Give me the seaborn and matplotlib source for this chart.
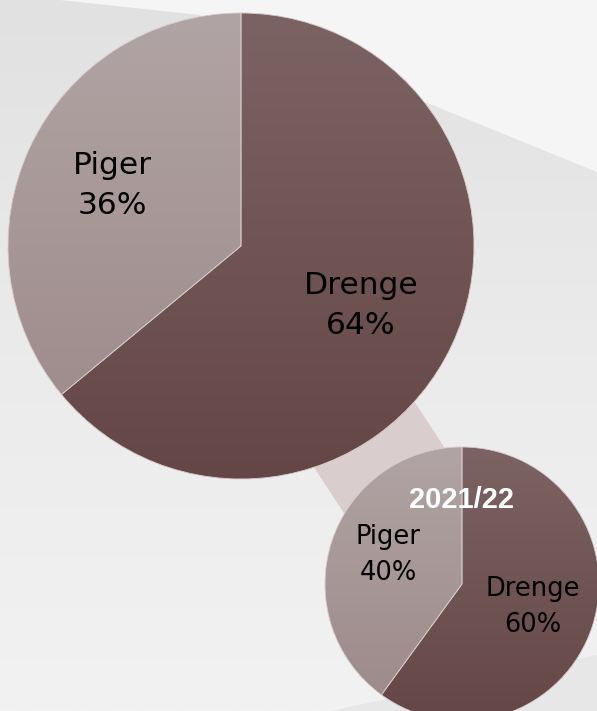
import numpy as np
import matplotlib
matplotlib.use("Agg")
import matplotlib.pyplot as plt
import seaborn as sns
from matplotlib.colors import ListedColormap
from matplotlib.patches import Polygon

# data
labels = ["Piger", "Drenge"]
total_values = [36, 64]
season_values = [40, 60]
season_name = "2021/22"

# slice colours (top -> bottom of each pie)
piger_colors = ["#b1a4a4", "#9c8888"]
drenge_colors = ["#7c6363", "#654646"]

sns.set_style("white")
plt.rcParams["font.family"] = ["DejaVu Sans"]

W, H = 597, 711
fig = plt.figure(figsize=(W / 100, H / 100), dpi=100)
ax = fig.add_axes([0, 0, 1, 1])
ax.set_xlim(0, W)
ax.set_ylim(0, H)
ax.set_aspect("equal")
ax.axis("off")


def py(y):
    # pixel row from top -> data y
    return H - y


# background: soft grey gradient plus a light diagonal sheet at the top
bg = ListedColormap(sns.blend_palette(["#e1e1e1", "#ebebeb", "#f2f2f2"], 256))
ax.imshow(np.linspace(0, 1, 256)[:, None], cmap=bg, extent=[0, W, 0, H],
          origin="upper", aspect="auto", zorder=0)
sheet = [(60, 0), (W, 0), (W, 172), (425, 102), (200, 15)]
ax.add_patch(Polygon([(x, py(y)) for x, y in sheet], closed=True,
                     facecolor="#f5f5f5", edgecolor="none", zorder=1))
low = [(330, H), (W, 655), (W, H)]
ax.add_patch(Polygon([(x, py(y)) for x, y in low], closed=True,
                     facecolor="#e7e7e7", edgecolor="none", zorder=1))

big_c = np.array([241, py(246)])
big_r = 233
small_c = np.array([462, py(584)])
small_r = 137

# connecting band between the two pies
d = small_c - big_c
d = d / np.hypot(*d)
perp = np.array([d[1], -d[0]])
hw = 60
band = [big_c + perp * hw, small_c + perp * hw, small_c - perp * hw, big_c - perp * hw]
ax.add_patch(Polygon(band, closed=True, facecolor="#d9cdcd", edgecolor="none", zorder=2))


def draw_pie(values, center, radius, fsize, gap, label_pos):
    wedges, _ = ax.pie(values, center=center, radius=radius, startangle=90,
                       counterclock=True, frame=True,
                       wedgeprops=dict(edgecolor="#d6caca", linewidth=0.6))
    for w, cols in zip(wedges, [piger_colors, drenge_colors]):
        w.set_facecolor("none")
        w.set_zorder(4)
        cmap = ListedColormap(sns.blend_palette(cols, 256))
        im = ax.imshow(np.linspace(0, 1, 256)[:, None], cmap=cmap,
                       extent=[center[0] - radius, center[0] + radius,
                               center[1] - radius, center[1] + radius],
                       origin="upper", aspect="auto", zorder=3)
        im.set_clip_path(w)
    for lab, v, (x, y) in zip(labels, values, label_pos):
        ax.text(x, py(y), lab, ha="center", va="center", fontsize=fsize,
                color="black", zorder=5)
        ax.text(x, py(y + gap), f"{v}%", ha="center", va="center",
                fontsize=fsize, color="black", zorder=5)


draw_pie(total_values, big_c, big_r, 22.5, 40, [(112, 166), (361, 286)])
draw_pie(season_values, small_c, small_r, 18.5, 36, [(388, 537), (533, 589)])

ax.text(461, py(500), season_name, ha="center", va="center", fontsize=21,
        fontweight="bold", color="white", family=["Liberation Sans", "DejaVu Sans"],
        zorder=6)

ax.set_xlim(0, W)
ax.set_ylim(0, H)
ax.axis("off")

plt.savefig("out.png", dpi=100)
